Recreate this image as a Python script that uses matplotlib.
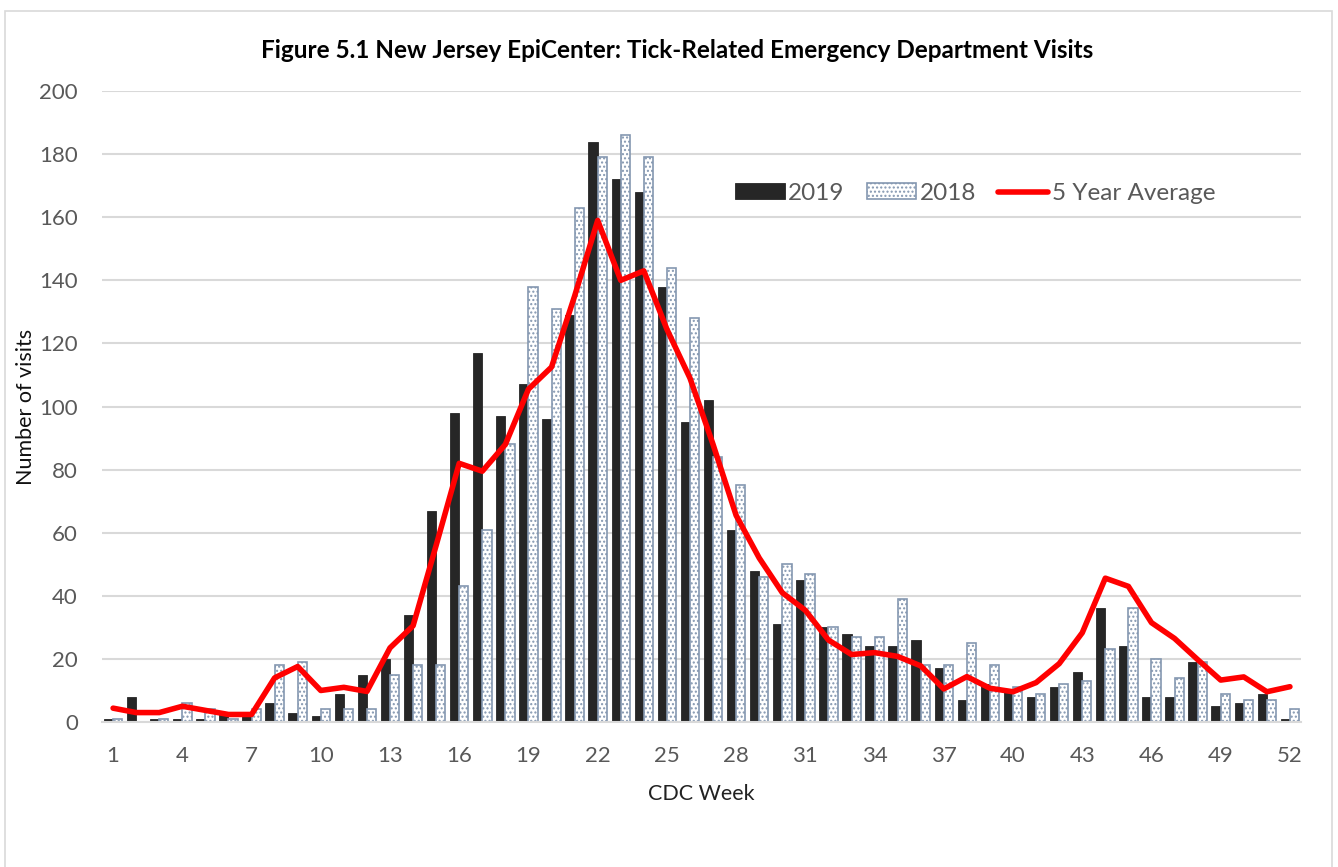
import matplotlib
matplotlib.use('Agg')
import matplotlib.pyplot as plt
from matplotlib.patches import Rectangle
import numpy as np

plt.rcParams['font.family'] = ['Lato', 'DejaVu Sans']
plt.rcParams['hatch.linewidth'] = 1.0

# 주별 진드기 관련 응급실 방문 건수
weeks = list(range(1, 53))
visits_2019 = [1, 8, 1, 1, 1, 3, 2, 6, 3, 2, 9, 15, 20, 34, 67, 98, 117, 97, 107, 96,
               129, 184, 172, 168, 138, 95, 102, 61, 48, 31, 45, 30, 28, 24, 24, 26, 17, 7, 12, 10,
               8, 11, 16, 36, 24, 8, 8, 19, 5, 6, 9, 1]
visits_2018 = [1, 0, 1, 6, 4, 1, 4, 18, 19, 4, 4, 4, 15, 18, 18, 43, 61, 88, 138, 131,
               163, 179, 186, 179, 144, 128, 84, 75, 46, 50, 47, 30, 27, 27, 39, 18, 18, 25, 18, 11,
               9, 12, 13, 23, 36, 20, 14, 19, 9, 7, 7, 4]
avg_5yr = [4.4, 3, 3, 5, 3.7, 2.4, 2.4, 14, 17.6, 10, 11, 9.7, 23.5, 30.5, 56, 82, 79.5, 88, 105.5, 112.5,
           135, 159, 140, 143, 124.5, 109, 88, 65.5, 52, 41, 35.4, 26, 21.4, 22, 20.8, 17.8, 10.5, 14.4, 10.7, 9.6,
           12.5, 18.5, 28.3, 45.6, 43, 31.5, 26.5, 19.8, 13.3, 14.3, 9.6, 11.2]
xtick_weeks = list(range(1, 53, 3))

grey_txt = '#595959'
fig = plt.figure(figsize=(13.38, 8.67), dpi=100)
ax = fig.add_axes([0.0759, 0.1672, 0.8968, 0.7278])

x = np.array(weeks)
w = 0.4
b19 = ax.bar(x - w / 2, visits_2019, width=w, color='#262626', edgecolor='#262626',
             linewidth=0.6, label='2019', zorder=2)
b18 = ax.bar(x + w / 2, visits_2018, width=w, color='white', edgecolor='#8497B0',
             hatch='....', linewidth=1.2, label='2018', zorder=2)
ln, = ax.plot(x, avg_5yr, color='#FF0000', linewidth=4.0, solid_capstyle='round',
              solid_joinstyle='round', label='5 Year Average', zorder=3)

ax.set_xlim(0.5, 52.5)
ax.set_ylim(0, 200)
ax.set_yticks(range(0, 201, 20))
ax.set_xticks(xtick_weeks)
ax.yaxis.grid(True, color='#D9D9D9', linewidth=1.5, zorder=0)
ax.set_axisbelow(True)
for s in ['top', 'right', 'left']:
    ax.spines[s].set_visible(False)
ax.spines['bottom'].set_color('#D9D9D9')
ax.spines['bottom'].set_linewidth(1.5)
ax.tick_params(axis='both', length=0, labelsize=16, labelcolor=grey_txt)
ax.tick_params(axis='x', pad=17)
ax.tick_params(axis='y', pad=17)

ax.set_xlabel('CDC Week', fontsize=15.5, color='#222222', labelpad=13)
ax.set_ylabel('Number of visits', fontsize=15.5, color='#111111', labelpad=2)

fig.text(0.506, 0.942, 'Figure 5.1 New Jersey EpiCenter: Tick-Related Emergency Department Visits',
         ha='center', va='center', fontsize=17.5, fontweight='bold', color='black')

leg = ax.legend([b19, b18, ln], ['2019', '2018', '5 Year Average'],
                loc='center', bbox_to_anchor=(0.728, 0.838), ncol=3, frameon=False,
                fontsize=17.5, handlelength=2.05, handleheight=0.6, handletextpad=0.15,
                columnspacing=0.9)
for t in leg.get_texts():
    t.set_color(grey_txt)

# 차트 영역 테두리
fig.patches.append(Rectangle((5 / 1338, -0.01), 1327 / 1338, 1 - 11 / 867 + 0.01,
                             transform=fig.transFigure, fill=False,
                             edgecolor='#D9D9D9', linewidth=1.2))

fig.savefig('out.png', dpi=100)
